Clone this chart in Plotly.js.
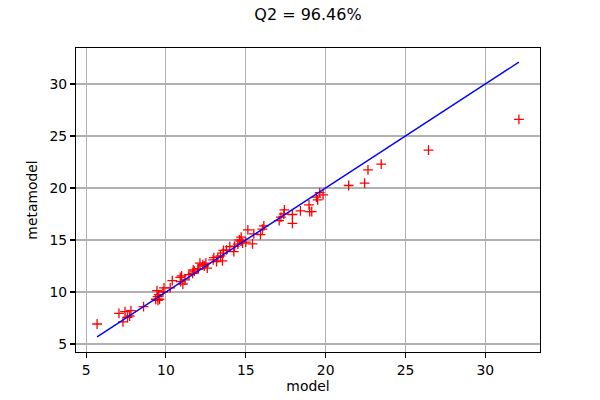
<!DOCTYPE html>
<html>
<head>
<meta charset="utf-8">
<script src="https://cdn.plot.ly/plotly-3.0.1.min.js"></script>
<style>html,body{margin:0;padding:0;background:#fff;}#chart{width:600px;height:400px;}</style>
</head>
<body>
<div id="chart"></div>
<script>
const titleText = "Q2 = 96.46%";
const xLabel = "model";
const yLabel = "metamodel";

const model = [5.69, 7.06, 7.31, 7.44, 7.60, 7.73, 7.81, 8.60, 9.36, 9.44, 9.48, 9.60, 9.81, 9.55,
  10.27, 9.88, 10.40, 10.98, 11.06, 11.19, 10.92, 11.44, 11.78, 11.67, 11.71, 12.03, 12.00, 12.31,
  12.13, 12.50, 12.59, 12.96, 13.17, 13.25, 13.42, 13.54, 13.59, 13.79, 14.00, 14.25, 14.50, 14.70,
  14.80, 15.00, 14.60, 14.71, 15.42, 15.13, 15.50, 15.92, 16.04, 16.13, 17.09, 17.20, 17.38, 17.42,
  17.92, 17.92, 18.42, 18.96, 19.00, 19.13, 19.50, 19.42, 19.63, 19.84, 21.44, 22.44, 22.65, 23.48,
  26.44, 32.10, 13.00, 13.60, 14.30, 12.40, 9.50, 10.90];
const metamodel = [6.92, 7.95, 7.12, 8.11, 7.57, 7.69, 8.20, 8.59, 9.30, 10.13, 9.55, 9.30, 10.00, 9.75,
  10.39, 10.39, 11.09, 11.54, 10.77, 11.16, 11.00, 11.67, 12.00, 11.80, 12.12, 12.25, 12.19, 12.63,
  12.77, 12.77, 12.29, 13.08, 12.92, 13.34, 13.47, 13.00, 13.73, 14.05, 14.36, 13.88, 14.60, 14.90,
  14.70, 14.80, 15.00, 15.27, 14.62, 15.97, 15.59, 15.52, 16.04, 16.36, 16.87, 17.20, 17.50, 17.90,
  17.45, 16.60, 17.80, 18.38, 17.73, 17.73, 18.86, 19.12, 19.56, 19.34, 20.24, 20.47, 21.75, 22.30,
  23.64, 26.60, 13.30, 14.00, 14.40, 12.50, 9.20, 11.40];

const lo = Math.min(...model), hi = Math.max(...model);
const diag = [lo, hi];

const tickFont = {family: "DejaVu Sans", size: 13.9, color: "#000"};
const axisCommon = {
  showline: true, mirror: true, linecolor: "#000", linewidth: 1.1,
  ticks: "outside", ticklen: 5, tickwidth: 1.1, tickcolor: "#000",
  showgrid: true, gridcolor: "#b0b0b0", gridwidth: 1.1,
  zeroline: false, tickfont: tickFont, dtick: 5
};

const traces = [
  {x: model, y: metamodel, mode: "markers", type: "scatter",
   marker: {symbol: "cross-thin", size: 7, color: "red", line: {color: "red", width: 1.3}}},
  {x: diag, y: diag, mode: "lines", type: "scatter", line: {color: "blue", width: 1.4}}
];

const layout = {
  width: 600, height: 400, showlegend: false,
  paper_bgcolor: "#fff", plot_bgcolor: "#fff",
  margin: {l: 76, r: 60, t: 48, b: 48},
  font: {family: "DejaVu Sans", color: "#000"},
  title: {text: titleText, font: {family: "DejaVu Sans", size: 16, color: "#000"},
          x: 0.5, xref: "paper", y: 0.963, yref: "container", xanchor: "center", yanchor: "middle"},
  xaxis: Object.assign({}, axisCommon, {range: [4.37, 33.42],
    title: {text: xLabel, font: {family: "DejaVu Sans", size: 13.9, color: "#000"}, standoff: 4}}),
  yaxis: Object.assign({}, axisCommon, {range: [4.23, 33.46],
    title: {text: yLabel, font: {family: "DejaVu Sans", size: 13.9, color: "#000"}, standoff: 8}})
};

Plotly.newPlot("chart", traces, layout, {displayModeBar: false, staticPlot: true});
</script>
</body>
</html>
